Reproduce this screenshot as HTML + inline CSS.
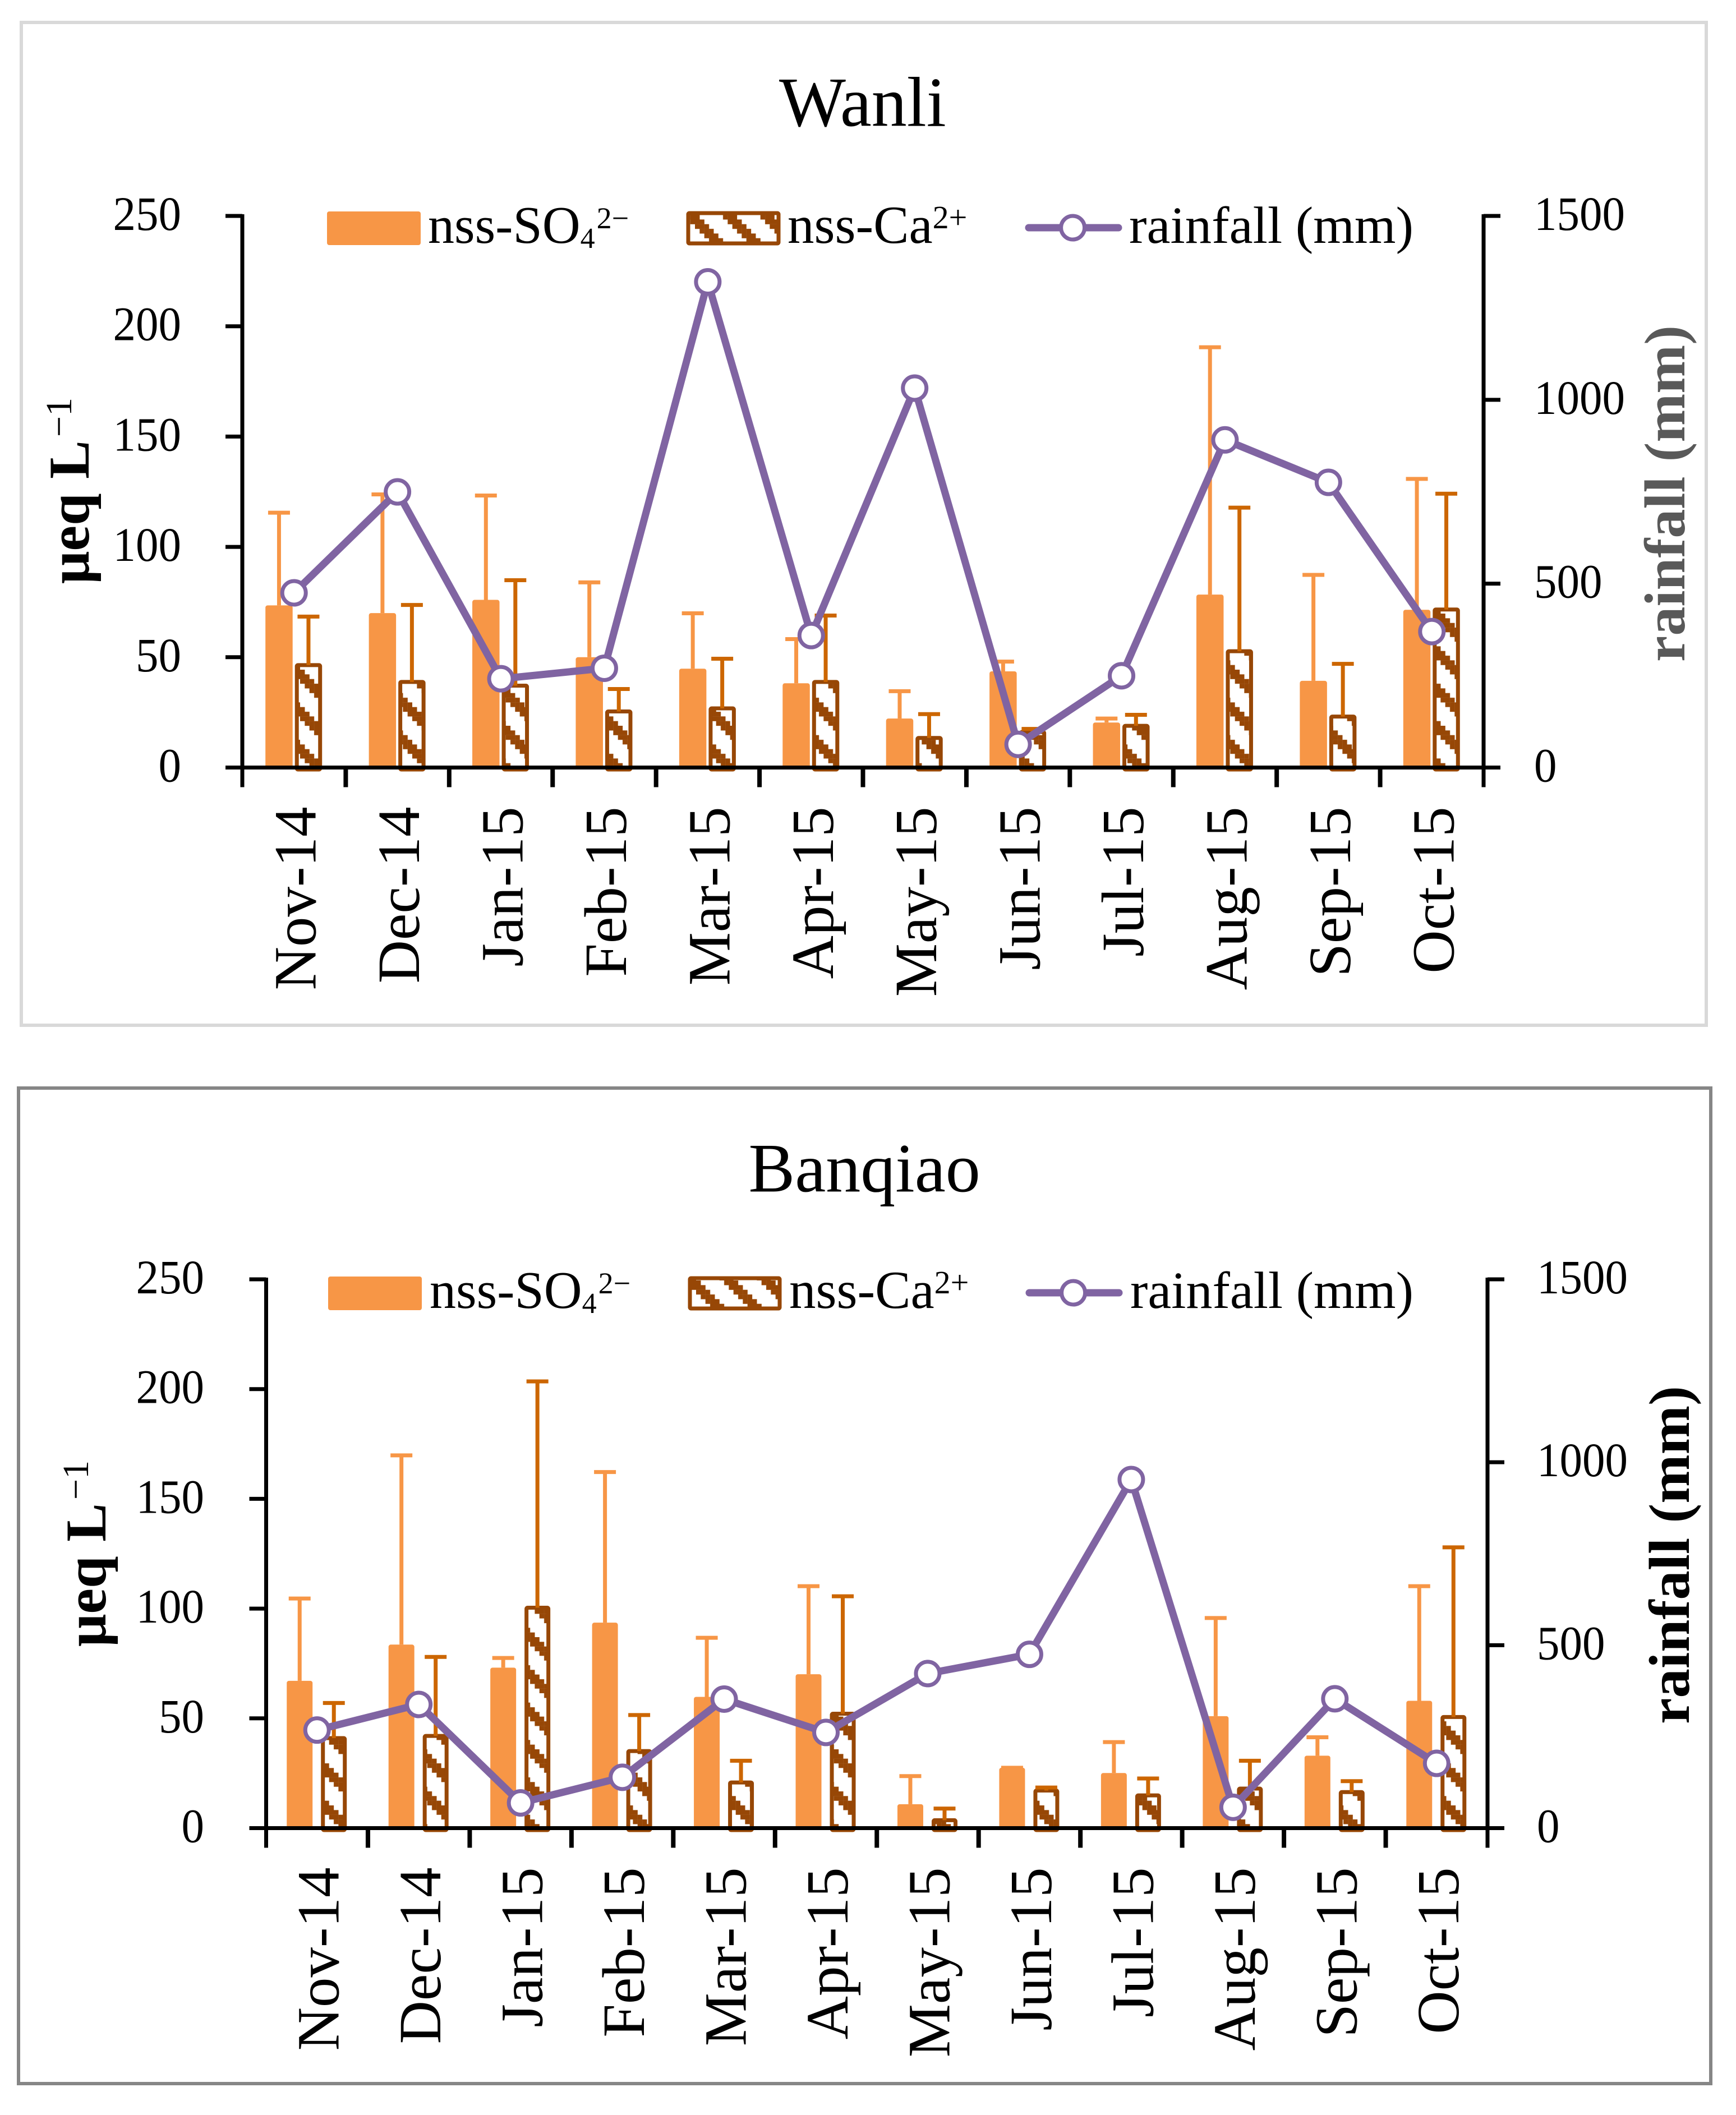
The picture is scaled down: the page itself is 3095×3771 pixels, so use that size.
<!DOCTYPE html>
<html>
<head>
<meta charset="utf-8">
<title>Wanli and Banqiao rainfall chart</title>
<style>
html,body{margin:0;padding:0;background:#fff;}
svg{display:block;}
text{font-family:"Liberation Serif","DejaVu Serif",serif;fill:#000;}
</style>
</head>
<body>
<svg id="figure" xmlns="http://www.w3.org/2000/svg" width="3095" height="3771" viewBox="0 0 3095 3771">
  <defs id="defs"></defs>
  <rect x="0" y="0" width="3095" height="3771" fill="#ffffff"/>

  <rect x="38" y="40" width="3004" height="1788" fill="#ffffff" stroke="#d9d9d9" stroke-width="6"/>
  <rect x="33" y="1940" width="3017" height="1775" fill="#ffffff" stroke="#868686" stroke-width="6"/>

  <text x="1389" y="224.5" font-size="126">Wanli</text>
  <text x="1334.5" y="2124.5" font-size="124">Banqiao</text>

  <g id="wanli-plot"></g>
  <g id="banqiao-plot"></g>

  <g>
    <g>
      <rect x="583" y="377" width="167" height="60" rx="4" fill="#f79646"/>
      <text x="763" y="433" font-size="94">nss-SO<tspan dy="9" font-size="52">4</tspan><tspan dy="-35" dx="3" font-size="54">2−</tspan></text>
    </g>
    <g>
      <rect x="1227" y="380" width="161" height="54" rx="2" fill="url(#hatch-wanli-legend)" stroke="#974706" stroke-width="7"/>
      <text x="1404" y="433" font-size="95">nss-Ca<tspan dy="-26" font-size="58">2+</tspan></text>
    </g>
    <g>
      <line x1="1834" y1="406" x2="1994" y2="406" stroke="#8064a2" stroke-width="13" stroke-linecap="round"/>
      <circle cx="1912.6" cy="406" r="21" fill="#ffffff" stroke="#8064a2" stroke-width="7"/>
      <text x="2013" y="433" font-size="93" textLength="507" lengthAdjust="spacingAndGlyphs">rainfall (mm)</text>
    </g>
  </g>

  <g>
    <g>
      <rect x="585" y="2276" width="167" height="60" rx="4" fill="#f79646"/>
      <text x="766" y="2332" font-size="94">nss-SO<tspan dy="9" font-size="52">4</tspan><tspan dy="-35" dx="3" font-size="54">2−</tspan></text>
    </g>
    <g>
      <rect x="1230" y="2279" width="160" height="54" rx="2" fill="url(#hatch-banqiao-legend)" stroke="#974706" stroke-width="7"/>
      <text x="1407" y="2332" font-size="95">nss-Ca<tspan dy="-26" font-size="58">2+</tspan></text>
    </g>
    <g>
      <line x1="1835" y1="2305" x2="1995" y2="2305" stroke="#8064a2" stroke-width="13" stroke-linecap="round"/>
      <circle cx="1913.6" cy="2305" r="21" fill="#ffffff" stroke="#8064a2" stroke-width="7"/>
      <text x="2015" y="2332" font-size="93" textLength="505" lengthAdjust="spacingAndGlyphs">rainfall (mm)</text>
    </g>
  </g>

  <text transform="translate(158,1041) rotate(-90)" font-size="103" font-weight="bold">μeq L<tspan dy="-31" dx="6" font-size="66" font-weight="normal">−1</tspan></text>
  <text transform="translate(188,2936) rotate(-90)" font-size="103" font-weight="bold">μeq L<tspan dy="-31" dx="6" font-size="66" font-weight="normal">−1</tspan></text>
  <text transform="translate(3003,1180) rotate(-90)" font-size="103" font-weight="bold" style="fill:#595959" textLength="600" lengthAdjust="spacingAndGlyphs">rainfall (mm)</text>
  <text transform="translate(3011,3074) rotate(-90)" font-size="103" font-weight="bold" textLength="603" lengthAdjust="spacingAndGlyphs">rainfall (mm)</text>
</svg>

<script>
var categories = ["Nov-14","Dec-14","Jan-15","Feb-15","Mar-15","Apr-15","May-15","Jun-15","Jul-15","Aug-15","Sep-15","Oct-15"];
var concentrationTicks = [0,50,100,150,200,250];
var rainfallTicks = [0,500,1000,1500];

var wanliSo4 = [73.5,70,76,50,44.8,38.2,22.2,43.6,20.4,78.4,39.3,71.5];
var wanliCa = [47.3,39.7,38,26.3,27.7,39.7,14.3,17,19.8,53.6,24,72.5];
var wanliSo4Upper = [115.5,123.8,123.3,83.9,69.9,58.2,34.6,48,22.2,190.5,87.3,130.8];
var wanliCaUpper = [68.4,73.7,84.9,35.6,49.3,68.9,24.2,17.5,23.9,117.8,47,124.1];
var wanliRainfall = [475,749.6,241.5,270,1320.7,359,1031.7,63,249.6,891,775.5,369.6];

var banqiaoSo4 = [67.1,83.6,73.1,93.6,59.8,70.1,10.9,27.5,25.1,51,33,58];
var banqiaoCa = [41.9,42.9,101.3,36,21.7,53,4.5,18,15.8,18.9,17.3,51.5];
var banqiaoSo4Upper = [104.6,169.8,77.5,162.2,86.7,110.2,23.7,27.5,39.2,95.7,41.4,110.2];
var banqiaoCaUpper = [57,78,203.5,51.5,30.7,105.6,8.9,18.5,22.6,30.7,21.4,127.9];
var banqiaoRainfall = [268,338,69,139,352.6,261.5,422.5,475,952.8,57,353.5,177];

var SVG_NS = "http://www.w3.org/2000/svg";
var COLOR_SO4 = "#f79646", COLOR_CA = "#974706", COLOR_CA_ERR = "#cc6600", COLOR_RAIN = "#8064a2";

function make(tag, parent) {
  var el = document.createElementNS(SVG_NS, tag);
  parent.appendChild(el);
  return el;
}
function set(el, props) {
  for (var k in props) { el.setAttribute(k, props[k]); }
  return el;
}

function makeHatch(id, ox, oy) {
  var defs = document.getElementById("defs");
  var s = 25 / 3;
  var p = make("pattern", defs);
  
  
  set(p, {id: id, patternUnits: "userSpaceOnUse", x: ox, y: oy, width: s * 8, height: s * 8});
  var bg = make("rect", p);
  set(bg, {x: 0, y: 0, width: s * 8, height: s * 8, fill: "#ffffff"});
  for (var c = 0; c < 8; c++) {
    for (var k = 0; k < 3; k++) {
      var r = make("rect", p);
      set(r, {x: c * s, y: ((c + k) % 8) * s, width: s + 0.15, height: s + 0.15, fill: COLOR_CA});
    }
  }
}

function drawPlot(groupId, prefix, cfg, so4, ca, so4Upper, caUpper, rainfall) {
  var g = document.getElementById(groupId);
  var step = (cfg.x1 - cfg.x0) / categories.length;
  function xBand(i) { return cfg.x0 + (i + 0.5) * step; }
  function yConc(v) { return cfg.yBase - (v / 250) * (cfg.yBase - cfg.yTop); }
  function yRain(v) { return cfg.yBase - (v / 1500) * (cfg.yBase - cfg.yTop); }

  // bars
  categories.forEach(function (cat, i) {
    var cx = xBand(i);
    var a = make("rect", g);
    
    
    set(a, {x: cx + cfg.so4Offset, y: yConc(so4[i]), width: cfg.barW, height: cfg.yBase - yConc(so4[i]) + 3, rx: 4, fill: COLOR_SO4});

    var b = make("rect", g);
    
    
    set(b, {x: cx + cfg.caOffset + 3.5, y: yConc(ca[i]) + 3.5, width: cfg.barW - 7, height: Math.max(cfg.yBase - yConc(ca[i]), 4), rx: 2,
      fill: "url(#" + cfg.hatch + ")", stroke: COLOR_CA, "stroke-width": 7});
  });

  // error bars
  categories.forEach(function (cat, i) {
    var cx = xBand(i);
    var ax = cx + cfg.so4Offset + cfg.barW / 2;
    var bx = cx + cfg.caOffset + cfg.barW / 2;

    var e1 = make("path", g);
    
    
    set(e1, {d: "M" + ax + " " + yConc(so4[i]) + "V" + yConc(so4Upper[i]) + "M" + (ax - 19.5) + " " + yConc(so4Upper[i]) + "H" + (ax + 19.5),
      stroke: COLOR_SO4, "stroke-width": 7, fill: "none"});

    var e2 = make("path", g);
    
    
    set(e2, {d: "M" + bx + " " + (yConc(ca[i]) + 3.5) + "V" + yConc(caUpper[i]) + "M" + (bx - 19.5) + " " + yConc(caUpper[i]) + "H" + (bx + 19.5),
      stroke: COLOR_CA_ERR, "stroke-width": 7, fill: "none"});
  });

  // left axis
  var leftAxis = make("line", g);
  
  
  set(leftAxis, {x1: cfg.x0, y1: cfg.yTop - 3, x2: cfg.x0, y2: cfg.yBase + 35, stroke: "#000", "stroke-width": 7});

  concentrationTicks.forEach(function (v) {
    var t = make("line", g);
    
    
    set(t, {x1: cfg.x0 - 30, y1: yConc(v), x2: cfg.x0, y2: yConc(v), stroke: "#000", "stroke-width": 7});

    var l = make("text", g);
    
    
    set(l, {x: cfg.leftLabelX, y: yConc(v) + 25, "font-size": 86, "text-anchor": "end", textLength: String(v).length * 40.5, lengthAdjust: "spacingAndGlyphs"});
    l.textContent = String(v);
  });

  // right axis
  var rightAxis = make("line", g);
  
  
  set(rightAxis, {x1: cfg.x1, y1: cfg.yTop - 3, x2: cfg.x1, y2: cfg.yBase + 35, stroke: "#000", "stroke-width": 7});

  rainfallTicks.forEach(function (v) {
    var t = make("line", g);
    
    
    set(t, {x1: cfg.x1, y1: yRain(v), x2: cfg.x1 + 30, y2: yRain(v), stroke: "#000", "stroke-width": 7});

    var l = make("text", g);
    
    
    set(l, {x: cfg.rightLabelX, y: yRain(v) + 25, "font-size": 86, textLength: String(v).length * 40.5, lengthAdjust: "spacingAndGlyphs"});
    l.textContent = String(v);
  });

  // x axis
  var xAxis = make("line", g);
  
  
  set(xAxis, {x1: cfg.x0 - 30, y1: cfg.yBase, x2: cfg.x1 + 30, y2: cfg.yBase, stroke: "#000", "stroke-width": 7});

  categories.forEach(function (cat, i) {
    if (i > 0) {
      var t = make("line", g);
      
      
      set(t, {x1: cfg.x0 + i * step, y1: cfg.yBase, x2: cfg.x0 + i * step, y2: cfg.yBase + 35, stroke: "#000", "stroke-width": 8});
    }
    var l = make("text", g);
    
    
    set(l, {transform: "translate(" + (xBand(i) + 38.5) + "," + (cfg.yBase + 70) + ") rotate(-90)", "font-size": 107, "text-anchor": "end"});
    l.textContent = cat;
  });

  // rainfall line
  var pts = rainfall.map(function (v, i) { return xBand(i) + "," + yRain(v); }).join(" ");
  var line = make("polyline", g);
  
  
  set(line, {points: pts, fill: "none", stroke: COLOR_RAIN, "stroke-width": 13, "stroke-linejoin": "round"});

  rainfall.forEach(function (v, i) {
    var m = make("circle", g);
    
    
    set(m, {cx: xBand(i), cy: yRain(v), r: 21, fill: "#ffffff", stroke: COLOR_RAIN, "stroke-width": 7});
  });
}

makeHatch("hatch-wanli", 535, 1194);
makeHatch("hatch-banqiao", 586.7, 3152.3);
makeHatch("hatch-wanli-legend", 1239, 383);
makeHatch("hatch-banqiao-legend", 1241, 2283);

drawPlot("wanli-plot", "wanli",
  {x0: 432, x1: 2645, yTop: 385, yBase: 1368.5, barW: 48.5, so4Offset: -51, caOffset: 1.5, leftLabelX: 323, rightLabelX: 2735, hatch: "hatch-wanli"},
  wanliSo4, wanliCa, wanliSo4Upper, wanliCaUpper, wanliRainfall);

drawPlot("banqiao-plot", "banqiao",
  {x0: 474.5, x1: 2652, yTop: 2281, yBase: 3259.5, barW: 46, so4Offset: -54, caOffset: 7, leftLabelX: 364, rightLabelX: 2740, hatch: "hatch-banqiao"},
  banqiaoSo4, banqiaoCa, banqiaoSo4Upper, banqiaoCaUpper, banqiaoRainfall);
</script>
</body>
</html>
